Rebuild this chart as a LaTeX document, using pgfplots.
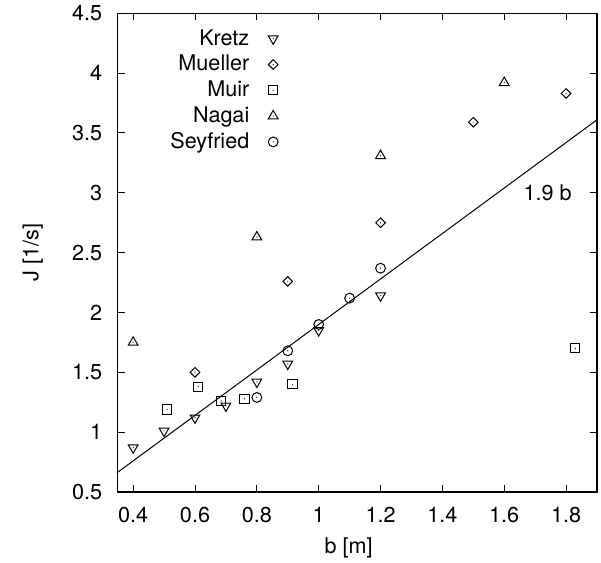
\documentclass[border=0pt]{standalone}
\usepackage{fontspec}
\setmainfont{TeX Gyre Heros}
\usepackage{pgfplots}
\pgfplotsset{compat=1.18}

\pgfdeclareplotmark{gdtri}{%
  \pgfpathmoveto{\pgfqpoint{0pt}{-\pgfplotmarksize}}%
  \pgfpathlineto{\pgfqpoint{0.866\pgfplotmarksize}{0.5\pgfplotmarksize}}%
  \pgfpathlineto{\pgfqpoint{-0.866\pgfplotmarksize}{0.5\pgfplotmarksize}}%
  \pgfpathclose\pgfusepathqstroke
  \pgfpathcircle{\pgfpointorigin}{0.3pt}\pgfusepathqfill}
\pgfdeclareplotmark{gutri}{%
  \pgfpathmoveto{\pgfqpoint{0pt}{\pgfplotmarksize}}%
  \pgfpathlineto{\pgfqpoint{0.866\pgfplotmarksize}{-0.5\pgfplotmarksize}}%
  \pgfpathlineto{\pgfqpoint{-0.866\pgfplotmarksize}{-0.5\pgfplotmarksize}}%
  \pgfpathclose\pgfusepathqstroke
  \pgfpathcircle{\pgfpointorigin}{0.3pt}\pgfusepathqfill}
\pgfdeclareplotmark{gdia}{%
  \pgfpathmoveto{\pgfqpoint{0pt}{\pgfplotmarksize}}%
  \pgfpathlineto{\pgfqpoint{\pgfplotmarksize}{0pt}}%
  \pgfpathlineto{\pgfqpoint{0pt}{-\pgfplotmarksize}}%
  \pgfpathlineto{\pgfqpoint{-\pgfplotmarksize}{0pt}}%
  \pgfpathclose\pgfusepathqstroke
  \pgfpathcircle{\pgfpointorigin}{0.3pt}\pgfusepathqfill}
\pgfdeclareplotmark{gsq}{%
  \pgfpathrectangle{\pgfqpoint{-\pgfplotmarksize}{-\pgfplotmarksize}}{\pgfqpoint{2\pgfplotmarksize}{2\pgfplotmarksize}}%
  \pgfusepathqstroke
  \pgfpathcircle{\pgfpointorigin}{0.3pt}\pgfusepathqfill}
\pgfdeclareplotmark{gcirc}{%
  \pgfpathcircle{\pgfpointorigin}{\pgfplotmarksize}\pgfusepathqstroke
  \pgfpathcircle{\pgfpointorigin}{0.3pt}\pgfusepathqfill}

\begin{document}
\begin{tikzpicture}
\begin{axis}[
  name=ax,
  scale only axis,
  width=239.65pt, height=239.35pt,
  xmin=0.35, xmax=1.9, ymin=0.5, ymax=4.5,
  xtick={0.4,0.6,...,1.8},
  ytick={0.5,1,...,4.5},
  tick align=inside,
  major tick length=3.5pt,
  axis line style={line width=0.7pt},
  every tick/.style={black, line width=0.5pt},
  font=\fontsize{10.8}{13}\selectfont,
  /pgf/number format/assume math mode=true,
  xticklabel style={yshift=-4.3pt},
  yticklabel style={xshift=-4.2pt},
  xlabel={b [m]},
  ylabel={J [1/s]},
  xlabel style={at={(axis description cs:0.482,-0.117)}, anchor=center},
  ylabel style={at={(axis description cs:-0.177,0.5)}, anchor=center},
  legend plot pos=right,
  legend cell align=right,
  legend style={at={(0.348,0.984)}, anchor=north east, draw=none, fill=none,
    font=\fontsize{10.8}{13}\selectfont, row sep=-0.5pt,
    /tikz/every odd column/.append style={column sep=7.5pt}},
]
\addplot[black, line width=0.5pt, forget plot] coordinates {(0.35,0.665) (1.9,3.61)};
\addplot[only marks, mark=gdtri, mark size=2.8pt, mark options={line width=0.5pt, black}] coordinates {
(0.4,0.87) (0.5,1.01) (0.6,1.12) (0.7,1.22) (0.8,1.42) (0.9,1.57) (1.0,1.85) (1.2,2.14)};
\addlegendentry{Kretz}
\addplot[only marks, mark=gdia, mark size=2.4pt, mark options={line width=0.5pt, black}] coordinates {
(0.6,1.50) (0.9,2.26) (1.2,2.75) (1.5,3.59) (1.8,3.83)};
\addlegendentry{Mueller}
\addplot[only marks, mark=gsq, mark size=2.3pt, mark options={line width=0.5pt, black}] coordinates {
(0.51,1.19) (0.61,1.38) (0.685,1.26) (0.76,1.28) (0.915,1.40) (1.83,1.70)};
\addlegendentry{Muir}
\addplot[only marks, mark=gutri, mark size=2.8pt, mark options={line width=0.5pt, black}] coordinates {
(0.4,1.75) (0.8,2.63) (1.2,3.31) (1.6,3.92)};
\addlegendentry{Nagai}
\addplot[only marks, mark=gcirc, mark size=2.45pt, mark options={line width=0.5pt, black}] coordinates {
(0.8,1.29) (0.9,1.68) (1.0,1.90) (1.1,2.12) (1.2,2.37)};
\addlegendentry{Seyfried}
\node[font=\fontsize{10.8}{13}\selectfont] at (axis cs:1.74,3.0) {1.9 b};
\end{axis}
\path (ax.south west) ++(-58.85pt,-35.5pt) coordinate (bl);
\path (ax.north east) ++(2pt,6.65pt) coordinate (tr);
\pgfresetboundingbox
\path (bl) rectangle (tr);
\end{tikzpicture}
\end{document}
